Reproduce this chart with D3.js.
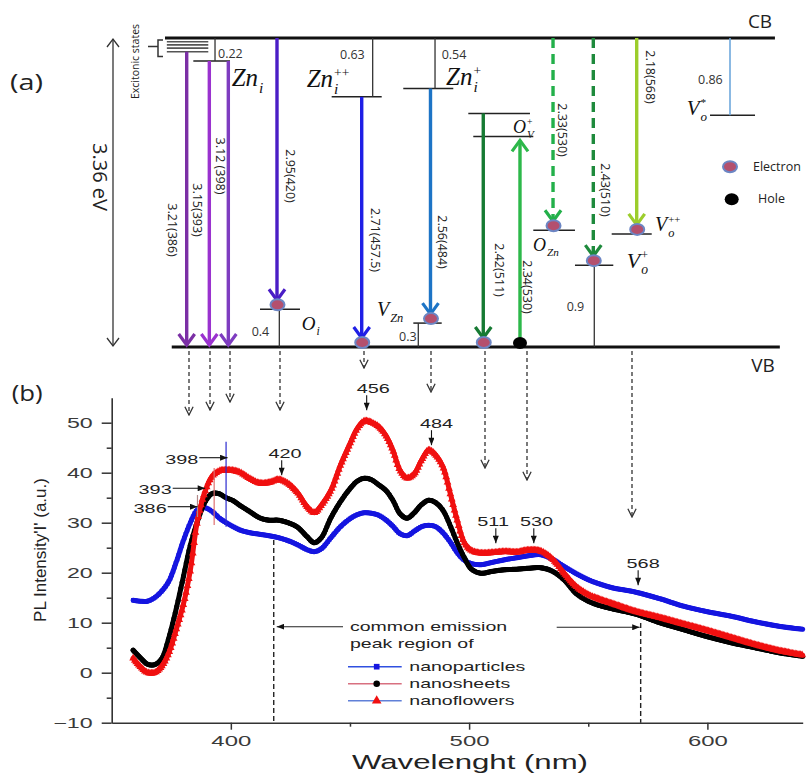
<!DOCTYPE html>
<html><head><meta charset="utf-8">
<script src="https://cdn.jsdelivr.net/npm/d3@7"></script>
<style>
html,body{margin:0;padding:0;background:#fff;}
svg{display:block;}
</style></head><body>
<svg id="chart" width="808" height="773"></svg>
<script>
// ================= DATA : panel (b) =================
const wavelengths = [359,362,365,368,371,374,377,380,383,386,389,392,395,398,401,404,408,412,416,420,424,428,432,435,438,442,446,450,453,456,459,462,465,468,471,474,477,480,483,486,489,492,495,498,501,505,510,515,520,525,530,535,540,545,550,555,560,570,580,590,600,610,620,630,640];
const nanoparticles = [14.5,14.3,14.3,15.0,16.3,18.3,22.0,26.3,30.0,32.6,33.0,32.3,31.0,30.0,29.2,28.5,28.0,27.7,27.4,27.0,26.4,25.6,24.6,24.2,24.8,27.0,29.2,30.8,31.6,32.0,31.9,31.5,30.6,29.3,27.8,27.4,28.3,29.2,29.5,29.2,28.0,26.2,24.0,22.5,21.8,21.6,22.1,22.6,23.0,23.4,23.6,22.7,21.2,19.8,18.6,17.7,17.0,16.1,14.8,13.3,12.2,11.3,10.2,9.3,8.7];
const nanosheets = [4.5,3.0,1.7,1.6,2.8,7.0,12.6,19.0,25.5,30.3,34.0,35.8,35.8,35.0,34.4,33.4,32.2,31.0,30.5,30.5,30.0,29.1,27.2,26.0,27.0,31.0,34.2,36.8,38.3,38.9,38.6,37.6,36.5,34.5,31.8,30.9,32.0,33.6,34.5,34.0,32.5,29.5,26.0,23.0,20.7,19.9,20.3,20.6,20.7,20.9,21.0,20.3,18.5,15.8,14.3,13.4,12.8,11.7,10.0,8.6,7.2,6.0,5.0,4.0,3.3];
const nanoflowers = [2.9,1.2,0.0,0.0,1.3,4.0,8.5,13.5,20.5,30.5,36.0,39.2,40.3,40.5,40.4,40.0,38.8,37.9,38.0,38.6,37.8,36.0,33.2,32.0,33.5,36.5,41.5,45.8,48.8,50.3,50.0,49.2,47.5,44.5,40.5,38.9,39.8,42.5,44.5,43.5,41.2,36.0,30.5,26.0,24.4,23.9,24.0,24.2,24.1,24.5,24.3,22.7,19.8,17.2,15.6,14.6,13.8,12.2,11.0,9.7,8.4,7.0,5.6,4.4,3.5];
const seriesNames = ["nanoparticles","nanosheets","nanoflowers"];
const xTicks = [400,500,600];
const xMinorTicks = [450,550];
const yTicks = [-10,0,10,20,30,40,50];
const yMinorTicks = [-5,5,15,25,35,45];
const peakWavelengths = [420,456,484,511,530,568];
const sidePeakWavelengths = [386,393,398];
const commonRegion = [418,572];
const legendTitle = ["common emission","peak region of"];

// ================= DATA : panel (a) =================
const bandGap = 3.36;
const excitonicEnergies = [3.32,3.285,3.25,3.21];
const levelNames = ["Zn_i","Zn_i^++","Zn_i^+","O_i","V_Zn","O_V^+","O_V^+ (low)","O_Zn","V_o^+","V_o^++","V_o^*"];
const levelEnergies = [3.11,2.72,2.81,0.41,0.26,2.54,2.29,1.27,0.89,1.23,2.52];
const levelDepthLabels = ["0.22","0.63","0.54","0.4","0.3","","","","0.9","","0.86"];
const transitionLabels = ["3.21(386)","3.15(393)","3.12 (398)","2.95(420)","2.71(457.5)","2.56(484)","2.42(511)","2.34(530)","2.33(530)","2.43(510)","2.18(568)"];
const transitionFrom = [3.21,3.11,3.11,3.36,2.72,2.81,2.54,0,3.36,3.36,3.36];
const transitionTo = [0,0,0,0.41,0,0.26,0,2.29,1.27,0.89,1.23];
const transitionEnd = ["none","none","none","electron","electron","electron","electron","hole","electron","electron","electron"];

// ================= LAYOUT / STYLE =================
const svg = d3.select('#chart');
const FONT_B = "'Liberation Sans', Arial, sans-serif";
const FONT_A = "'Open Sans', 'Noto Sans', sans-serif";
const FONT_M = "'Liberation Serif', 'DejaVu Serif', serif";

// horizontally stretch text glyphs (the original figure is stretched horizontally)
function stretch(sel, k){
  sel.each(function(){
    const anchor = getComputedStyle(this).textAnchor;
    const w = this.getComputedTextLength();
    const W = w*k;
    let x0 = parseFloat(this.getAttribute('x')) || 0;
    if (anchor === 'end') x0 -= W; else if (anchor === 'middle') x0 -= W/2;
    this.setAttribute('x', x0.toFixed(1));
    this.setAttribute('text-anchor','start');
    this.style.textAnchor = 'start';
    this.setAttribute('textLength', W.toFixed(1));
    this.setAttribute('lengthAdjust','spacingAndGlyphs');
  });
}

const defs = svg.append('defs');
defs.append('marker').attr('id','ah').attr('viewBox','0 0 10 8').attr('refX',10).attr('refY',4)
  .attr('markerWidth',8).attr('markerHeight',6).attr('markerUnits','userSpaceOnUse').attr('orient','auto')
  .append('path').attr('d','M0,0 L10,4 L0,8 Z').attr('fill','#111');
defs.append('marker').attr('id','openV').attr('viewBox','0 0 12 12').attr('refX',11).attr('refY',6)
  .attr('markerWidth',11).attr('markerHeight',11).attr('markerUnits','userSpaceOnUse').attr('orient','auto')
  .append('path').attr('d','M2,1.5 L11,6 L2,10.5').attr('fill','none').attr('stroke','#333').attr('stroke-width',1.4);

// ---------------- panel (a) ----------------
const xa = d3.scaleLinear().domain([0,100]).range([165,778]);
const ya = d3.scaleLinear().domain([0,bandGap]).range([347,38]);
const gA = svg.append('g');

// band edges
gA.append('line').attr('x1',xa(0)).attr('x2',xa(99.5)).attr('y1',ya(bandGap)).attr('y2',ya(bandGap)).attr('stroke','#111').attr('stroke-width',3);
gA.append('line').attr('x1',xa(1.1)).attr('x2',xa(100.3)).attr('y1',ya(0)).attr('y2',ya(0)).attr('stroke','#111').attr('stroke-width',3);
gA.append('text').attr('x',760).attr('y',27.5).attr('text-anchor','middle').attr('font-family',FONT_A).attr('font-size',19).attr('fill','#222').text('CB');
gA.append('text').attr('x',763).attr('y',372).attr('text-anchor','middle').attr('font-family',FONT_A).attr('font-size',19).attr('fill','#222').text('VB');
gA.append('text').attr('x',10).attr('y',90).attr('font-family',FONT_A).attr('font-size',22).attr('fill','#222').attr('textLength',33).attr('lengthAdjust','spacingAndGlyphs').text('(a)');

// band gap double arrow
gA.append('line').attr('x1',113).attr('x2',113).attr('y1',ya(bandGap)+1).attr('y2',ya(0)-1).attr('stroke','#333').attr('stroke-width',1.3);
gA.append('path').attr('d',`M107,${ya(bandGap)+9} L113,${ya(bandGap)+1} L119,${ya(bandGap)+9}`).attr('fill','none').attr('stroke','#333').attr('stroke-width',1.3);
gA.append('path').attr('d',`M107,${ya(0)-9} L113,${ya(0)-1} L119,${ya(0)-9}`).attr('fill','none').attr('stroke','#333').attr('stroke-width',1.3);
gA.append('text').attr('transform','translate(100,177) rotate(90)').attr('text-anchor','middle').attr('dominant-baseline','central')
  .attr('font-family',FONT_A).attr('font-size',20).attr('fill','#222').text(bandGap.toFixed(2)+' eV');

// excitonic states
gA.append('text').attr('transform','translate(135,61.5) rotate(-90)').attr('text-anchor','middle').attr('dominant-baseline','central')
  .attr('font-family',FONT_A).attr('font-size',10.5).attr('fill','#222').text('Excitonic states');
gA.append('path').attr('d','M148,46.5 L158,46.5 M163,40 L158,40 L158,56.5 L163,56.5').attr('fill','none').attr('stroke','#333').attr('stroke-width',1.5);
gA.selectAll('.exc').data(excitonicEnergies).join('line')
  .attr('x1',xa(0.3)).attr('x2',xa(7.06)).attr('y1',d=>ya(d)).attr('y2',d=>ya(d)).attr('stroke','#555').attr('stroke-width',1.6);

// defect levels (layout per level)
const levelLayout = [
  {c0:4.62,c1:10.6, conn:8.16, to:'CB', depth:[218,57.5], lab:[231.7,86,25,'Zn','i','']},
  {c0:27.19,c1:35.35, conn:33.88, to:'CB', depth:[340,58.5], lab:[306.7,87,25,'Zn','i','++']},
  {c0:38.87,c1:47.03, conn:44.05, to:'CB', depth:[441.7,58.5], lab:[446,85,25,'Zn','i','+']},
  {c0:15.5,c1:22.02, conn:18.65, to:'VB', depth:[251.7,336], lab:[301.7,330,19,'O','i','']},
  {c0:40.51,c1:45.14, conn:41.32, to:'VB', depth:[399,341], lab:[377,316,20,'V','Zn','']},
  {c0:49.48,c1:59.54, conn:null, lab:[513,133,18,'O','V','+']},
  {c0:50.29,c1:60.08, conn:null, lab:null},
  {c0:60.08,c1:66.88, conn:null, lab:[533,251,18,'O','Zn','']},
  {c0:66.88,c1:73.13, conn:70.03, to:'VB', depth:[566.7,311], lab:[626.7,268,22,'V','o','+']},
  {c0:72.87,c1:79.4, conn:null, lab:[655,231,20,'V','o','++']},
  {c0:88.91,c1:96.25, conn:92.17, to:'CB', depth:[698,84], lab:[686.7,115,21,'V','o','*'], connColor:'#6FA8DC'}
];

function mathLabel(g, x0, base, size, main, sub, sup){
  const t = g.append('text').attr('x',x0).attr('y',base).attr('font-family',FONT_M).attr('font-style','italic')
    .attr('font-size',size).attr('fill','#111').text(main);
  const w = t.node().getComputedTextLength();
  if (sub) g.append('text').attr('x',x0+w+1).attr('y',base+size*0.28).attr('font-family',FONT_M).attr('font-style','italic')
    .attr('font-size',size*0.62).attr('fill','#111').text(sub);
  if (sup) g.append('text').attr('x',x0+w+1).attr('y',base-size*0.42).attr('font-family',FONT_M)
    .attr('font-size',size*0.54).attr('fill','#111').text(sup);
}

levelEnergies.forEach((E,i)=>{
  const L = levelLayout[i];
  gA.append('line').attr('x1',xa(L.c0)).attr('x2',xa(L.c1)).attr('y1',ya(E)).attr('y2',ya(E)).attr('stroke','#222').attr('stroke-width',1.5);
  if (L.conn!==null){
    const yEnd = L.to==='CB' ? ya(bandGap) : ya(0);
    gA.append('line').attr('x1',xa(L.conn)).attr('x2',xa(L.conn)).attr('y1',ya(E)).attr('y2',yEnd)
      .attr('stroke',L.connColor||'#333').attr('stroke-width',L.connColor?1.6:1.3);
  }
  if (levelDepthLabels[i]) gA.append('text').attr('x',L.depth[0]).attr('y',L.depth[1]).attr('font-family',FONT_A)
    .attr('font-size',12.5).attr('fill','#333').text(levelDepthLabels[i]);
  if (L.lab) mathLabel(gA, L.lab[0], L.lab[1], L.lab[2], L.lab[3], L.lab[4], L.lab[5]);
});

// transitions (layout per transition)
const transLayout = [
  {c:3.54, color:'#7B2FA5', dx:-14.7, ly:230},
  {c:7.23, color:'#9A32CF', dx:-12, ly:210},
  {c:10.33, color:'#7E3CC0', dx:-8, ly:166},
  {c:18.27, color:'#4A1DC6', dx:14, ly:176},
  {c:32.09, color:'#1F1FE6', dx:14, ly:240},
  {c:43.31, color:'#1D74C6', dx:12, ly:242},
  {c:51.92, color:'#167A33', dx:16, ly:270},
  {c:57.91, color:'#2DB84A', dx:8, ly:287},
  {c:63.3, color:'#23B04A', dx:9, ly:130, dash:true},
  {c:69.87, color:'#1E8A3C', dx:12, ly:190, dash:true},
  {c:76.95, color:'#9CCD2C', dx:14, ly:77}
];
const markers = [];
transitionLabels.forEach((lab,i)=>{
  const T = transLayout[i];
  const xx = xa(T.c);
  const up = transitionTo[i] > transitionFrom[i];
  const y0 = ya(transitionFrom[i]) - (up ? 4 : 0);
  const yLevel = ya(transitionTo[i]);
  let tip;
  if (up) tip = yLevel + 4;
  else tip = transitionEnd[i]==='none' ? yLevel - 2 : yLevel - 9;
  gA.append('line').attr('x1',xx).attr('x2',xx).attr('y1',y0).attr('y2',tip)
    .attr('stroke',T.color).attr('stroke-width',3.4).attr('stroke-dasharray',T.dash?'10,6':null);
  const s = up ? 1 : -1;
  gA.append('path').attr('d',`M${xx-8},${tip+s*11} L${xx},${tip} L${xx+8},${tip+s*11}`)
    .attr('fill','none').attr('stroke',T.color).attr('stroke-width',3.2).attr('stroke-linejoin','miter');
  gA.append('text').attr('transform',`translate(${xx+T.dx},${T.ly}) rotate(90)`).attr('text-anchor','middle').attr('dominant-baseline','central')
    .attr('font-family',FONT_A).attr('font-size',12.5).attr('fill','#222').text(lab);
  if (transitionEnd[i]==='electron') markers.push({type:'e', x:xx+0.5, y:(up?ya(transitionFrom[i]):yLevel)-4.5});
  if (transitionEnd[i]==='hole') markers.push({type:'h', x:xx, y:ya(transitionFrom[i])-4});
});
function electron(g,cx,cy){ g.append('ellipse').attr('cx',cx).attr('cy',cy).attr('rx',7).attr('ry',5.5).attr('fill','#B4506E').attr('stroke','#6C86C4').attr('stroke-width',2); }
function hole(g,cx,cy){ g.append('ellipse').attr('cx',cx).attr('cy',cy).attr('rx',7).attr('ry',6).attr('fill','#000'); }
markers.forEach(m=> m.type==='e' ? electron(gA,m.x,m.y) : hole(gA,m.x,m.y));

// carrier legend
electron(gA,730,166.7);
gA.append('text').attr('x',753).attr('y',171).attr('font-family',FONT_A).attr('font-size',12.5).attr('fill','#222').text('Electron');
hole(gA,731.7,199.3);
gA.append('text').attr('x',758).attr('y',203).attr('font-family',FONT_A).attr('font-size',12.5).attr('fill','#222').text('Hole');

// dashed projection arrows from VB to spectrum
const projX = [189,210,230,280,364,431,485,527,632];
const projTip = [415,410,402,410,368,392,468,480,517];
projX.forEach((px,i)=>{
  gA.append('line').attr('x1',px).attr('x2',px).attr('y1',351).attr('y2',projTip[i])
    .attr('stroke','#333').attr('stroke-width',1.3).attr('stroke-dasharray','4,3').attr('marker-end','url(#openV)');
});

// ---------------- panel (b) ----------------
const x = d3.scaleLinear().domain([350,640]).range([111.7,802.7]);
const y = d3.scaleLinear().domain([-10,55]).range([722.7,397.7]);
const gB = svg.append('g');

gB.append('text').attr('x',11.7).attr('y',401).attr('font-family',FONT_A).attr('font-size',21).attr('fill','#222')
  .attr('textLength',31).attr('lengthAdjust','spacingAndGlyphs').text('(b)');

// axes
const axL = gB.append('g').attr('transform',`translate(${x.range()[0]},0)`)
  .call(d3.axisLeft(y).tickValues(yTicks).tickSize(10).tickPadding(9).tickSizeOuter(0));
gB.append('g').attr('transform',`translate(${x.range()[0]},0)`)
  .call(d3.axisLeft(y).tickValues(yMinorTicks).tickSize(5).tickFormat('').tickSizeOuter(0))
  .select('.domain').remove();
const axB = gB.append('g').attr('transform',`translate(0,${y(-10)})`)
  .call(d3.axisBottom(x).tickValues(xTicks).tickSize(7).tickPadding(6).tickSizeOuter(0));
gB.append('g').attr('transform',`translate(0,${y(-10)})`)
  .call(d3.axisBottom(x).tickValues(xMinorTicks).tickSize(4).tickFormat('').tickSizeOuter(0))
  .select('.domain').remove();
gB.selectAll('.domain').attr('stroke','#333').attr('stroke-width',1.6);
gB.selectAll('.tick line').attr('stroke','#333').attr('stroke-width',1.5);
gB.selectAll('.tick text').attr('font-family',FONT_B).attr('font-size',14.5).attr('fill','#3a3a3a');
stretch(axL.selectAll('.tick text'),1.6);
stretch(axB.selectAll('.tick text'),1.65);

gB.append('text').attr('x',470).attr('y',769).attr('text-anchor','middle').attr('font-family',FONT_B).attr('font-size',21)
  .attr('fill','#222').attr('textLength',236).attr('lengthAdjust','spacingAndGlyphs').text('Wavelenght (nm)');
gB.append('text').attr('transform','translate(40,550) rotate(-90)').attr('text-anchor','middle').attr('dominant-baseline','central')
  .attr('font-family',FONT_B).attr('font-size',17).attr('fill','#222').text("PL Intensity'I' (a.u.)");

// series
const series = [
  {name:seriesNames[0], values:nanoparticles, color:'#1515E0', sym:d3.symbolSquare, symSize:18},
  {name:seriesNames[1], values:nanosheets, color:'#000000', sym:d3.symbolCircle, symSize:20},
  {name:seriesNames[2], values:nanoflowers, color:'#F01010', sym:d3.symbolTriangle, symSize:26}
];
const line = d3.line().x((d,i)=>x(wavelengths[i])).y(d=>y(d)).curve(d3.curveCatmullRom.alpha(0.5));
series.forEach(s=>{
  const p = gB.append('path').attr('d',line(s.values)).attr('fill','none').attr('stroke',s.color)
    .attr('stroke-width',5).attr('stroke-linejoin','round').attr('stroke-linecap','round');
  const node = p.node(), L = node.getTotalLength();
  const sym = d3.symbol().type(s.sym).size(s.symSize);
  let lastX = -1e9; const pts = [];
  for (let l=0; l<=L; l+=0.7){
    const pt = node.getPointAtLength(l);
    if (pt.x - lastX >= 1.3){ pts.push(pt); lastX = pt.x; }
  }
  gB.append('g').selectAll('path').data(pts).join('path')
    .attr('transform',d=>`translate(${d.x},${d.y})`).attr('d',sym).attr('fill',s.color);
});

// vertical dashed common region lines
const regionTop = [540, 623];
commonRegion.forEach((wl,i)=>{
  gB.append('line').attr('x1',x(wl)).attr('x2',x(wl)).attr('y1',regionTop[i]).attr('y2',y(-10))
    .attr('stroke','#222').attr('stroke-width',1.4).attr('stroke-dasharray','5,3');
});
gB.append('line').attr('x1',343).attr('x2',x(commonRegion[0])+3).attr('y1',626.7).attr('y2',626.7).attr('stroke','#222').attr('stroke-width',1.1).attr('marker-end','url(#ah)');
gB.append('line').attr('x1',556.7).attr('x2',x(commonRegion[1])-1).attr('y1',627.3).attr('y2',627.3).attr('stroke','#222').attr('stroke-width',1.1).attr('marker-end','url(#ah)');

// legend
const lgT = gB.append('g');
legendTitle.forEach((t,i)=>{
  lgT.append('text').attr('x',350).attr('y',631+i*16.7).attr('font-family',FONT_B).attr('font-size',13).attr('fill','#222').text(t);
});
const legLine = ['#3050E0','#D87080','#6080D8'];
series.forEach((s,i)=>{
  const ly = 666.7 + i*17;
  lgT.append('line').attr('x1',348).attr('x2',401.7).attr('y1',ly).attr('y2',ly).attr('stroke',legLine[i]).attr('stroke-width',1.4);
  lgT.append('path').attr('transform',`translate(376.7,${ly})`).attr('d',d3.symbol().type(s.sym).size(s.symSize+14)).attr('fill',s.color);
  lgT.append('text').attr('x',409.3).attr('y',ly+4.6).attr('font-family',FONT_B).attr('font-size',13).attr('fill','#222').text(s.name);
});
stretch(lgT.selectAll('text'),1.5);

// peak annotations with down arrows
const peakArrowDX = [3.2,2.4,0.5,0.5,-6.8,7];
const peakTipVal = [39.5,52.5,45.5,25.9,25.9,17.5];
const peakTextDX = [3.3,6.6,5,-2.7,2.7,5];
const pk = gB.append('g');
peakWavelengths.forEach((wl,i)=>{
  const ax = x(wl)+peakArrowDX[i], tip = y(peakTipVal[i]);
  pk.append('line').attr('x1',ax).attr('x2',ax).attr('y1',tip-15).attr('y2',tip).attr('stroke','#111').attr('stroke-width',1.1).attr('marker-end','url(#ah)');
  pk.append('text').attr('x',ax+peakTextDX[i]).attr('y',tip-17.5).attr('text-anchor','middle').attr('font-family',FONT_B)
    .attr('font-size',13.5).attr('fill','#222').text(wl);
});
stretch(pk.selectAll('text'),1.47);

// side peaks (386, 393, 398)
const sideTextRight = [166.7,171.7,198.3];
const sideTextY = [513.2,494,464];
const sideArrowY = [506.7,488.3,457.7];
const sideArrowEndDX = [0,-9,1.5];
const sideLineY = [[495,517],[468,525],[441.7,526.7]];
const sideLineColor = ['#B08888','#E07070','#2A2AD0'];
const sp = gB.append('g');
sidePeakWavelengths.forEach((wl,i)=>{
  sp.append('line').attr('x1',x(wl)).attr('x2',x(wl)).attr('y1',sideLineY[i][0]).attr('y2',sideLineY[i][1]).attr('stroke',sideLineColor[i]).attr('stroke-width',1.2);
  sp.append('line').attr('x1',sideTextRight[i]+1).attr('x2',x(wl)+sideArrowEndDX[i]).attr('y1',sideArrowY[i]).attr('y2',sideArrowY[i])
    .attr('stroke','#111').attr('stroke-width',1.1).attr('marker-end','url(#ah)');
  sp.append('text').attr('x',sideTextRight[i]).attr('y',sideTextY[i]).attr('text-anchor','end').attr('font-family',FONT_B)
    .attr('font-size',13.5).attr('fill','#222').text(wl);
});
stretch(sp.selectAll('text'),1.47);
</script>
</body></html>
